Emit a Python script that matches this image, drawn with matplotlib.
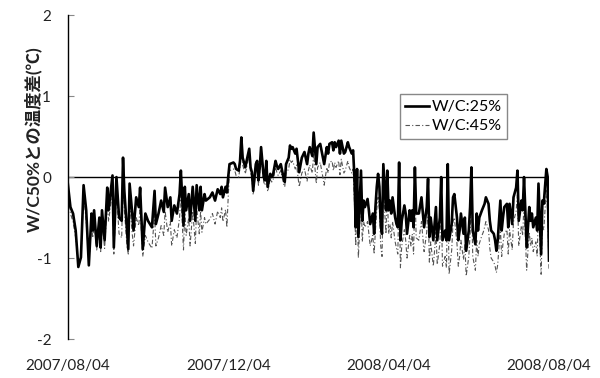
import pandas as pd
import numpy as np
import matplotlib
matplotlib.use("Agg")
import matplotlib.pyplot as plt

plt.rcParams['font.family'] = ['Lato', 'Noto Sans CJK JP', 'DejaVu Sans']
plt.rcParams['axes.unicode_minus'] = False

#%% data: temperature difference against W/C50% (deg C), day offset from 2007/08/04
start = pd.Timestamp('2007-08-04')

day_offset = [
    0, 2, 4, 6, 8, 10, 12, 14, 16, 18, 19, 20, 22, 24, 25, 26, 28, 30, 31, 34,
    35, 37, 39, 41, 42, 43, 45, 46, 47, 49, 50, 52, 54, 55, 57, 59, 61, 64, 66, 67,
    69, 71, 73, 74, 76, 78, 79, 81, 83, 85, 86, 88, 89, 90, 92, 93, 95, 97, 98, 100,
    101, 102, 104, 105, 108, 110, 112, 114, 116, 117, 118, 120, 121, 122, 123, 126, 127, 128, 130, 131,
    132, 133, 135, 136, 138, 139, 140, 141, 143, 144, 145, 146, 147, 149, 150, 151, 152, 154, 155, 156,
    158, 159, 160, 162, 164, 165, 166, 168, 169, 170, 171, 173, 174, 176, 178, 180, 182, 183, 184, 186,
    187, 189, 190, 192, 194, 195, 197, 198, 199, 201, 202, 203, 204, 206, 207, 208, 210, 211, 213, 214,
    216, 217, 218, 219, 220, 221, 223, 224, 225, 226, 228, 229, 230, 232, 233, 234, 235, 236, 237, 238,
    239, 240, 242, 243, 244, 245, 246, 247, 249, 250, 251, 252, 253, 254, 256, 257, 258, 260, 261, 262,
    263, 264, 265, 267, 269, 271, 273, 274, 275, 276, 278, 279, 280, 281, 283, 284, 285, 287, 288, 289,
    290, 292, 293, 294, 296, 297, 298, 299, 301, 302, 303, 305, 306, 307, 308, 310, 311, 312, 313, 315,
    316, 317, 318, 320, 321, 322, 324, 325, 326, 327, 329, 330, 331, 332, 334, 335, 336, 338, 339, 341,
    342, 343, 345, 346, 347, 348, 349, 351, 352, 353, 354, 356, 357, 358, 360, 361, 362, 364, 365, 366,
]

wc25 = [
    -0.08, -0.37, -0.45, -0.66, -1.11, -0.99, -0.10, -0.41, -1.09, -0.45, -0.66, -0.41, -0.85, -0.50, -0.87, -0.41, -0.78, -0.13, -0.41, 0.02,
    -0.87, 0.00, -0.50, -0.54, 0.24, -0.17, -0.66, -0.89, -0.08, -0.45, -0.66, -0.25, -0.37, -0.13, -0.89, -0.45, -0.54, -0.62, -0.17, -0.58,
    -0.45, -0.29, -0.43, -0.13, -0.37, -0.25, -0.54, -0.35, -0.45, -0.21, 0.08, -0.60, -0.12, -0.41, -0.21, -0.54, -0.12, -0.54, -0.10, -0.41,
    -0.12, -0.41, -0.21, -0.29, -0.25, -0.19, -0.29, -0.15, -0.21, -0.12, -0.25, -0.12, -0.19, 0.00, 0.16, 0.18, 0.16, 0.10, 0.08, 0.20,
    0.49, 0.24, 0.12, 0.20, 0.35, 0.12, 0.06, -0.17, 0.16, 0.20, -0.04, 0.12, 0.37, 0.00, -0.04, 0.20, -0.12, 0.04, 0.00, 0.02,
    0.20, 0.14, 0.10, 0.16, 0.00, -0.06, 0.16, 0.24, 0.39, 0.35, 0.37, 0.29, 0.35, 0.06, 0.24, 0.31, 0.16, 0.29, 0.37, 0.26,
    0.55, 0.16, 0.37, 0.41, 0.24, 0.16, 0.37, 0.29, 0.41, 0.43, 0.33, 0.43, 0.37, 0.45, 0.29, 0.45, 0.29, 0.31, 0.43, 0.37,
    0.29, 0.33, 0.00, -0.62, 0.10, -0.74, 0.08, -0.54, -0.29, -0.37, -0.27, -0.41, -0.58, -0.45, -0.70, -0.37, -0.12, 0.04, -0.12, -0.58,
    -0.70, 0.16, -0.41, 0.08, -0.41, -0.29, -0.45, -0.25, -0.50, -0.58, -0.62, 0.18, -0.78, -0.54, -0.35, -0.45, -0.70, -0.41, -0.54, -0.41,
    -0.62, 0.12, -0.45, -0.45, -0.25, -0.62, -0.37, -0.02, -0.74, -0.50, -0.78, -0.58, -0.37, -0.78, -0.50, 0.00, -0.78, -0.66, -0.78, 0.16,
    -0.78, -0.58, -0.25, -0.21, -0.50, -0.78, -0.66, -0.45, -0.70, -0.50, -0.91, -0.66, -0.37, 0.12, -0.66, -0.83, -0.45, -0.66, -0.50, -0.41,
    -0.37, -0.33, -0.25, -0.33, -0.54, -0.66, -0.70, -0.78, -0.91, -0.78, -0.29, -0.66, -0.50, -0.37, -0.33, -0.62, -0.33, -0.58, -0.25, -0.13,
    0.08, -0.54, -0.29, -0.41, 0.00, -0.41, -0.87, -0.37, -0.54, -0.45, -0.62, -0.50, -0.66, -0.08, -0.95, -0.29, -0.33, 0.10, 0.00, -1.03,
]

wc45 = [
    -0.10, -0.45, -0.55, -0.75, -1.05, -1.00, -0.20, -0.55, -1.05, -0.60, -0.75, -0.55, -0.90, -0.60, -0.92, -0.55, -0.88, -0.30, -0.55, -0.15,
    -0.95, -0.20, -0.70, -0.75, 0.05, -0.40, -0.85, -0.95, -0.30, -0.70, -0.85, -0.50, -0.60, -0.35, -0.98, -0.72, -0.80, -0.88, -0.45, -0.85,
    -0.75, -0.60, -0.72, -0.42, -0.68, -0.55, -0.85, -0.65, -0.75, -0.50, -0.20, -0.90, -0.40, -0.72, -0.50, -0.85, -0.42, -0.82, -0.38, -0.70,
    -0.42, -0.68, -0.50, -0.58, -0.52, -0.45, -0.58, -0.42, -0.50, -0.38, -0.55, -0.40, -0.62, -0.25, 0.08, 0.10, 0.08, 0.02, 0.00, 0.12,
    0.40, 0.15, 0.04, 0.12, 0.27, 0.05, -0.02, -0.22, 0.08, 0.12, -0.10, 0.04, 0.28, -0.06, -0.10, 0.12, -0.18, -0.03, -0.06, -0.05,
    0.12, 0.06, 0.02, 0.08, -0.08, -0.12, 0.05, 0.10, 0.22, 0.18, 0.20, 0.10, 0.15, -0.12, 0.05, 0.10, -0.05, 0.08, 0.15, 0.05,
    0.30, -0.08, 0.12, 0.18, 0.00, -0.10, 0.12, 0.05, 0.18, 0.20, 0.08, 0.18, 0.12, 0.20, 0.03, 0.22, 0.05, 0.08, 0.20, 0.12,
    0.05, 0.10, -0.30, -0.85, -0.20, -1.00, -0.20, -0.80, -0.55, -0.62, -0.55, -0.70, -0.85, -0.72, -0.95, -0.65, -0.40, -0.25, -0.40, -0.85,
    -0.98, -0.12, -0.70, -0.20, -0.70, -0.58, -0.75, -0.55, -0.80, -0.88, -0.95, -0.10, -1.12, -0.85, -0.65, -0.78, -1.00, -0.72, -0.85, -0.70,
    -0.95, -0.15, -0.75, -0.78, -0.55, -0.92, -0.68, -0.30, -1.05, -0.80, -1.10, -0.90, -0.68, -1.08, -0.82, -0.30, -1.10, -0.98, -1.12, -0.15,
    -1.20, -0.90, -0.55, -0.50, -0.82, -1.10, -0.98, -0.78, -1.02, -0.82, -1.22, -0.98, -0.70, -0.18, -0.98, -1.15, -0.78, -0.98, -0.82, -0.72,
    -0.68, -0.62, -0.55, -0.65, -0.88, -1.00, -1.05, -1.10, -1.18, -1.08, -0.62, -0.98, -0.82, -0.70, -0.65, -0.95, -0.65, -0.90, -0.55, -0.42,
    -0.22, -0.85, -0.60, -0.72, -0.30, -0.72, -1.15, -0.68, -0.85, -0.75, -0.92, -0.80, -0.98, -0.38, -1.20, -0.60, -0.65, -0.15, -0.45, -1.15,
]

tick_dates = ['2007-08-04', '2007-12-04', '2008-04-04', '2008-08-04']
tick_labels = ['2007/08/04', '2007/12/04', '2008/04/04', '2008/08/04']
y_ticks = [-2, -1, 0, 1, 2]

#%%
dates = start + pd.to_timedelta(day_offset, unit='D')

fig = plt.figure(figsize=(6.0, 3.78), dpi=100)
ax = fig.add_axes([0.113, 0.103, 0.802, 0.857])

ax.axhline(0, color='black', lw=1.0, zorder=1)
ax.plot(dates, wc45, color='#555555', lw=0.8, dashes=(4, 2, 1, 2), label='W/C:45%', zorder=2)
ax.plot(dates, wc25, color='black', lw=1.9, label='W/C:25%', zorder=3)

ax.set_xlim(pd.Timestamp(tick_dates[0]), pd.Timestamp(tick_dates[-1]))
ax.set_ylim(-2, 2)
ax.set_xticks(pd.to_datetime(tick_dates))
ax.set_xticklabels(tick_labels)
ax.set_yticks(y_ticks)

for side in ['top', 'right', 'bottom']:
    ax.spines[side].set_visible(False)
ax.spines['left'].set_linewidth(1.0)

ax.tick_params(axis='x', length=0, pad=14, labelsize=11, labelcolor='#222222')
ax.tick_params(axis='y', direction='in', length=4, width=0.8, color='#888888',
               pad=12, labelsize=11, labelcolor='#222222')

fig.text(33 / 600, 1 - 139 / 378, 'W/C50%との温度差(℃)', rotation=90,
         ha='center', va='center', fontsize=12.5, fontweight='bold', color='#222222')

handles, labels = ax.get_legend_handles_labels()
leg = ax.legend(handles[::-1], labels[::-1], loc='upper left', bbox_to_anchor=(0.69, 0.755),
                fontsize=11.5, fancybox=False, edgecolor='#888888', framealpha=1,
                handlelength=1.5, handletextpad=0.15, borderpad=0.35, labelspacing=0.3,
                borderaxespad=0)
leg.get_frame().set_linewidth(1.0)

plt.savefig('out.png', dpi=100)
plt.close('all')
